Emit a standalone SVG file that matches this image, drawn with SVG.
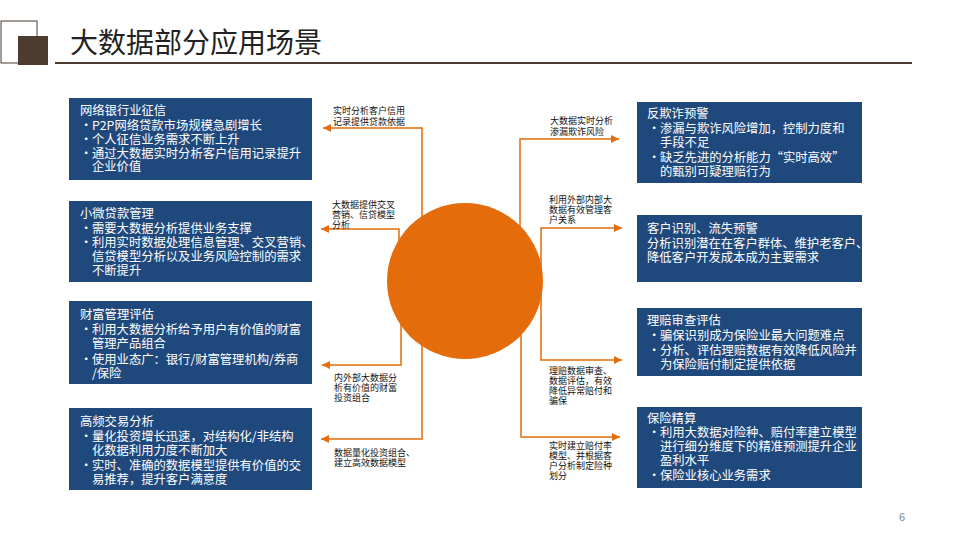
<svg xmlns="http://www.w3.org/2000/svg" width="960" height="540" viewBox="0 0 960 540">
<style>
.bx{fill:#1F497D;}
.bt{font-family:"Noto Sans CJK SC","Liberation Sans",sans-serif;font-size:12.3px;fill:#FFFFFF;}
.lb{font-family:"Noto Sans CJK SC","Liberation Sans",sans-serif;font-size:9px;fill:#111111;}
.cn{fill:none;stroke:#E46C0A;stroke-width:1.5;marker-end:url(#ah);}
</style>
<defs>
<marker id="ah" viewBox="0 0 10 10" refX="10" refY="5" markerUnits="userSpaceOnUse" markerWidth="9" markerHeight="8" orient="auto">
<path d="M0,0 L10,5 L0,10 z" fill="#E46C0A"/>
</marker>
</defs>
<rect width="960" height="540" fill="#FFFFFF"/>
<g id="header">
<rect x="1" y="21" width="36" height="42" fill="none" stroke="#4E3B30" stroke-width="1"/>
<rect x="18" y="36" width="30" height="29" fill="#4E3B30"/>
<text x="70" y="53" font-family="Noto Sans CJK SC, Liberation Sans, sans-serif" font-size="28" fill="#222222">大数据部分应用场景</text>
<rect x="55" y="62" width="857" height="2" fill="#4E3B30"/>
</g>
<g id="connectors">
<path class="cn" d="M422,282 V128 H323"/>
<path class="cn" d="M399,282 V229 H321"/>
<path class="cn" d="M401,282 V365 H322"/>
<path class="cn" d="M422,282 V439 H321"/>
<path class="cn" d="M520,282 V139 H619"/>
<path class="cn" d="M541,282 V228 H622"/>
<path class="cn" d="M541,282 V360 H622"/>
<path class="cn" d="M521,282 V437 H620"/>
</g>
<g id="labels">
<text class="lb"><tspan x="333" y="114">实时分析客户信用</tspan><tspan x="333" y="124.5">记录提供贷款依据</tspan></text>
<text class="lb"><tspan x="332" y="208">大数据提供交叉</tspan><tspan x="332" y="218">营销、信贷模型</tspan><tspan x="332" y="228">分析</tspan></text>
<text class="lb"><tspan x="334" y="380.5">内外部大数据分</tspan><tspan x="334" y="390.5">析有价值的财富</tspan><tspan x="334" y="400.5">投资组合</tspan></text>
<text class="lb"><tspan x="334" y="455.5">数据量化投资组合、</tspan><tspan x="334" y="465.5">建立高效数据模型</tspan></text>
<text class="lb"><tspan x="550" y="124">大数据实时分析</tspan><tspan x="550" y="134.5">渗漏欺诈风险</tspan></text>
<text class="lb"><tspan x="549" y="203">利用外部内部大</tspan><tspan x="549" y="213">数据有效管理客</tspan><tspan x="549" y="223">户关系</tspan></text>
<text class="lb"><tspan x="549" y="374">理赔数据审查、</tspan><tspan x="549" y="384">数据评估，有效</tspan><tspan x="549" y="394">降低异常赔付和</tspan><tspan x="549" y="404">骗保</tspan></text>
<text class="lb"><tspan x="549" y="449">实时建立赔付率</tspan><tspan x="549" y="459">模型、并根据客</tspan><tspan x="549" y="469">户分析制定险种</tspan><tspan x="549" y="479">划分</tspan></text>
</g>
<g id="center">
<circle cx="465" cy="281" r="78" fill="#E46C0A"/>
</g>
<g id="box-l1">
<rect class="bx" x="69" y="98" width="243" height="82"/>
<text class="bt"><tspan x="80" y="115">网络银行业征信</tspan><tspan x="80" y="130">•</tspan><tspan x="92" y="130">P2P网络贷款市场规模急剧增长</tspan><tspan x="80" y="143.5">•</tspan><tspan x="92" y="143.5">个人征信业务需求不断上升</tspan><tspan x="80" y="157.5">•</tspan><tspan x="92" y="157.5">通过大数据实时分析客户信用记录提升</tspan><tspan x="92" y="171">企业价值</tspan></text>
</g>
<g id="box-l2">
<rect class="bx" x="69" y="201" width="243" height="81"/>
<text class="bt"><tspan x="80" y="217.5">小微贷款管理</tspan><tspan x="80" y="232.5">•</tspan><tspan x="92" y="232.5">需要大数据分析提供业务支撑</tspan><tspan x="80" y="246.5">•</tspan><tspan x="92" y="246.5">利用实时数据处理信息管理、交叉营销、</tspan><tspan x="92" y="260.5">信贷模型分析以及业务风险控制的需求</tspan><tspan x="92" y="274.5">不断提升</tspan></text>
</g>
<g id="box-l3">
<rect class="bx" x="69" y="301" width="243" height="83"/>
<text class="bt"><tspan x="80" y="318.5">财富管理评估</tspan><tspan x="80" y="333.5">•</tspan><tspan x="92" y="333.5">利用大数据分析给予用户有价值的财富</tspan><tspan x="92" y="347.5">管理产品组合</tspan><tspan x="80" y="363.5">•</tspan><tspan x="92" y="363.5">使用业态广：银行/财富管理机构/券商</tspan><tspan x="92" y="378">/保险</tspan></text>
</g>
<g id="box-l4">
<rect class="bx" x="69" y="408" width="243" height="82"/>
<text class="bt"><tspan x="80" y="425.5">高频交易分析</tspan><tspan x="80" y="440.5">•</tspan><tspan x="92" y="440.5">量化投资增长迅速，对结构化/非结构</tspan><tspan x="92" y="454.5">化数据利用力度不断加大</tspan><tspan x="80" y="469.5">•</tspan><tspan x="92" y="469.5">实时、准确的数据模型提供有价值的交</tspan><tspan x="92" y="483.5">易推荐，提升客户满意度</tspan></text>
</g>
<g id="box-r1">
<rect class="bx" x="637" y="102" width="225" height="81"/>
<text class="bt"><tspan x="647" y="118">反欺诈预警</tspan><tspan x="648" y="133">•</tspan><tspan x="660" y="133">渗漏与欺诈风险增加，控制力度和</tspan><tspan x="660" y="147">手段不足</tspan><tspan x="648" y="162">•</tspan><tspan x="660" y="162">缺乏先进的分析能力“实时高效”</tspan><tspan x="660" y="176">的甄别可疑理赔行为</tspan></text>
</g>
<g id="box-r2">
<rect class="bx" x="637" y="215" width="225" height="67"/>
<text class="bt"><tspan x="647" y="232.5">客户识别、流失预警</tspan><tspan x="647" y="247.5">分析识别潜在在客户群体、维护老客户、</tspan><tspan x="647" y="261.5">降低客户开发成本成为主要需求</tspan></text>
</g>
<g id="box-r3">
<rect class="bx" x="637" y="308" width="225" height="68"/>
<text class="bt"><tspan x="647" y="324.5">理赔审查评估</tspan><tspan x="648" y="339.5">•</tspan><tspan x="660" y="339.5">骗保识别成为保险业最大问题难点</tspan><tspan x="648" y="354.5">•</tspan><tspan x="660" y="354.5">分析、评估理赔数据有效降低风险并</tspan><tspan x="660" y="368.5">为保险赔付制定提供依据</tspan></text>
</g>
<g id="box-r4">
<rect class="bx" x="637" y="407" width="225" height="81"/>
<text class="bt"><tspan x="647" y="423">保险精算</tspan><tspan x="648" y="437">•</tspan><tspan x="660" y="437">利用大数据对险种、赔付率建立模型</tspan><tspan x="660" y="451">进行细分维度下的精准预测提升企业</tspan><tspan x="660" y="465">盈利水平</tspan><tspan x="648" y="479.5">•</tspan><tspan x="660" y="479.5">保险业核心业务需求</tspan></text>
</g>
<text x="899" y="521" font-family="Liberation Sans, sans-serif" font-size="11" fill="#888888">6</text>
</svg>
